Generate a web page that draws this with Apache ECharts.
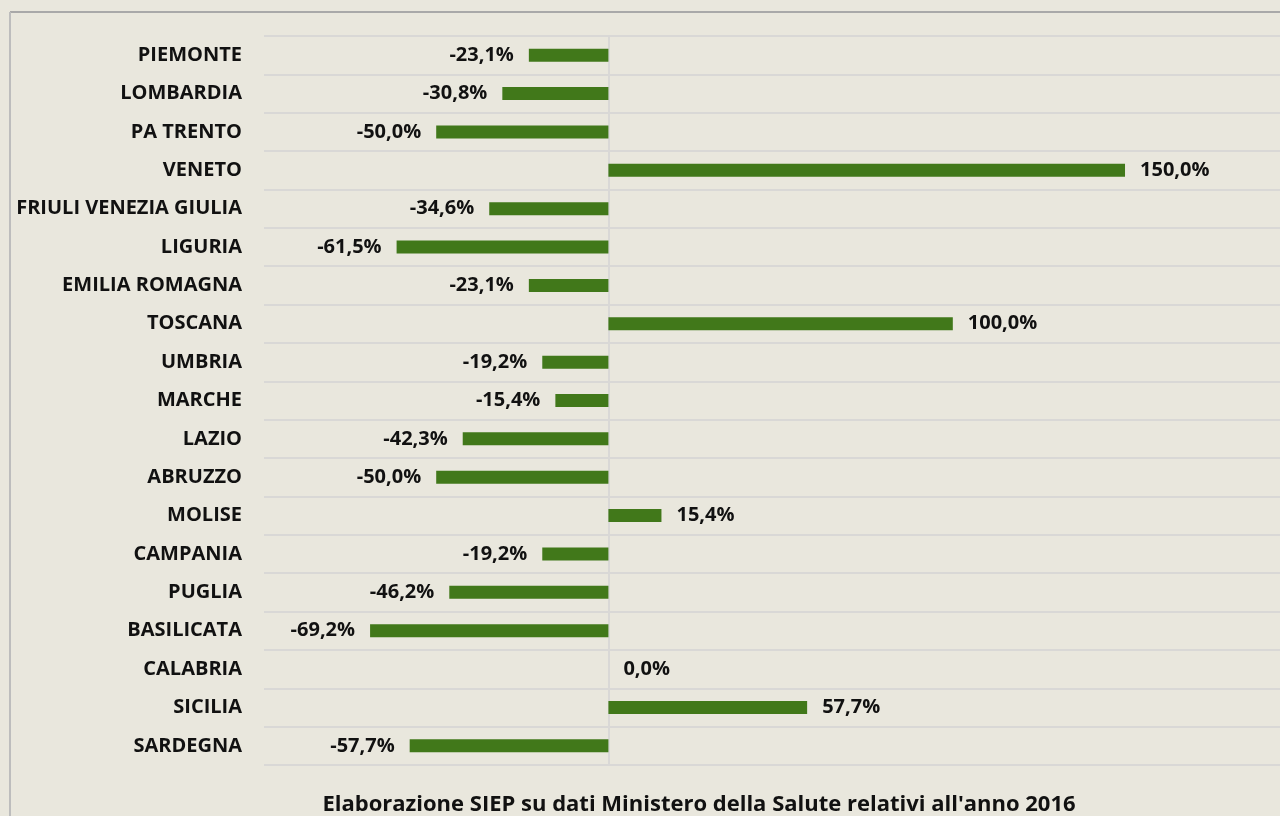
<!DOCTYPE html>
<html>
<head>
<meta charset="utf-8">
<script src="https://cdn.jsdelivr.net/npm/echarts@6/dist/echarts.min.js"></script>
<style>
html, body { margin: 0; padding: 0; background: #e9e7dd; }
#main { width: 1280px; height: 816px; }
</style>
</head>
<body>
<div id="main"></div>
<script>
var regioni = ['PIEMONTE', 'LOMBARDIA', 'PA TRENTO', 'VENETO', 'FRIULI VENEZIA GIULIA', 'LIGURIA',
	'EMILIA ROMAGNA', 'TOSCANA', 'UMBRIA', 'MARCHE', 'LAZIO', 'ABRUZZO', 'MOLISE', 'CAMPANIA',
	'PUGLIA', 'BASILICATA', 'CALABRIA', 'SICILIA', 'SARDEGNA'];
var variazioni = [-23.1, -30.8, -50.0, 150.0, -34.6, -61.5, -23.1, 100.0, -19.2, -15.4, -42.3,
	-50.0, 15.4, -19.2, -46.2, -69.2, 0.0, 57.7, -57.7];
var nota = "Elaborazione SIEP su dati Ministero della Salute relativi all'anno 2016";

var font = '"Open Sans", sans-serif';

// negative a sinistra della barra, positive (e zero) a destra
var bar_data = variazioni.map(function (v) {
	return { value: v, label: { position: v < 0 ? 'left' : 'right' } };
});

var chart = echarts.init(document.getElementById('main'));
var option = {
	backgroundColor: '#e9e7dd',
	animation: false,
	title: {
		text: nota,
		left: 694,
		textAlign: 'center',
		top: 789,
		textStyle: { fontFamily: font, fontSize: 22, fontWeight: 'bold', color: '#111' }
	},
	grid: { left: 264, right: 0, top: 36, height: 729 },
	xAxis: {
		type: 'value',
		min: -100,
		max: 195,
		show: false
	},
	yAxis: {
		type: 'category',
		inverse: true,
		data: regioni,
		axisLine: { onZero: true, lineStyle: { color: '#d9d8d6', width: 2 } },
		axisTick: { show: false },
		axisLabel: { margin: 22, fontFamily: font, fontSize: 20, fontWeight: 'bold', color: '#111' },
		splitLine: { show: true, lineStyle: { color: '#d9d8d6', width: 2 } }
	},
	series: [{
		type: 'bar',
		data: bar_data,
		barWidth: 13,
		itemStyle: { color: '#41781a' },
		label: {
			show: true,
			distance: 15,
			fontFamily: font,
			fontSize: 20,
			fontWeight: 'bold',
			color: '#111',
			formatter: function (p) {
				return p.value.toFixed(1).replace('.', ',') + '%';
			}
		}
	}],
	graphic: [
		{ type: 'line', shape: { x1: 10, y1: 12, x2: 1280, y2: 12 }, style: { stroke: '#a9a9a9', lineWidth: 2 } },
		{ type: 'line', shape: { x1: 10, y1: 12, x2: 10, y2: 816 }, style: { stroke: '#bdbdbd', lineWidth: 2 } }
	]
};
chart.setOption(option);
</script>
</body>
</html>
